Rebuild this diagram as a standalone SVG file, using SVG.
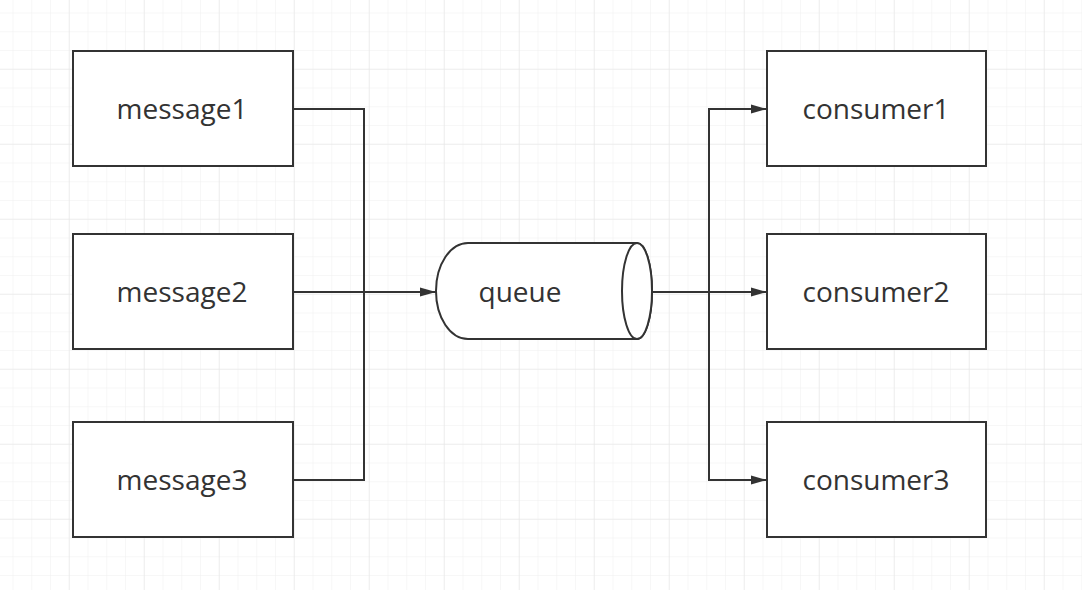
<svg xmlns="http://www.w3.org/2000/svg" width="1082" height="590" viewBox="0 0 1082 590">
<defs>
<pattern id="minor" x="12.5" y="12.5" width="18.75" height="18.75" patternUnits="userSpaceOnUse">
<path d="M 0 0 L 18.75 0 M 0 0 L 0 18.75" fill="none" stroke="#f0f0f0" stroke-width="1"/>
</pattern>
<pattern id="major" x="-6.25" y="-6.25" width="75" height="75" patternUnits="userSpaceOnUse">
<path d="M 0 0 L 75 0 M 0 0 L 0 75" fill="none" stroke="#e4e4e4" stroke-width="1"/>
</pattern>
<marker id="arr" viewBox="0 0 16 10" refX="16" refY="5" markerWidth="16" markerHeight="10" markerUnits="userSpaceOnUse" orient="auto">
<path d="M 0 0.5 L 16 5 L 0 9.5 Z" fill="#333"/>
</marker>
<style>
.box{fill:#fff;stroke:#333;stroke-width:2}
.lbl{font-family:"Open Sans","Noto Sans",sans-serif;font-size:28px;fill:#333;text-anchor:middle}
.conn{fill:none;stroke:#333;stroke-width:2}
</style>
</defs>
<rect width="1082" height="590" fill="#fff"/>
<rect width="1082" height="590" fill="url(#minor)"/>
<rect width="1082" height="590" fill="url(#major)"/>
<g id="connectors">
<path class="conn" d="M 293 109 L 364 109 L 364 480 L 293 480"/>
<path class="conn" d="M 293 292 L 436 292" marker-end="url(#arr)"/>
<path class="conn" d="M 652 292 L 767 292" marker-end="url(#arr)"/>
<path class="conn" d="M 709 292 L 709 109 L 767 109" marker-end="url(#arr)"/>
<path class="conn" d="M 709 292 L 709 480 L 767 480" marker-end="url(#arr)"/>
</g>
<g id="message1"><rect class="box" x="73" y="51" width="220" height="115"/><text class="lbl" x="182" y="119">message1</text></g>
<g id="message2"><rect class="box" x="73" y="234" width="220" height="115"/><text class="lbl" x="182" y="302">message2</text></g>
<g id="message3"><rect class="box" x="73" y="422" width="220" height="115"/><text class="lbl" x="182" y="490">message3</text></g>
<g id="queue">
<path class="box" d="M 468 243 L 637 243 A 15 48 0 0 1 637 339 L 468 339 A 32 48 0 0 1 468 243 Z"/>
<ellipse class="box" cx="637" cy="291" rx="15" ry="48"/>
<text class="lbl" x="520" y="302">queue</text>
</g>
<g id="consumer1"><rect class="box" x="767" y="51" width="219" height="115"/><text class="lbl" x="876" y="119">consumer1</text></g>
<g id="consumer2"><rect class="box" x="767" y="234" width="219" height="115"/><text class="lbl" x="876" y="302">consumer2</text></g>
<g id="consumer3"><rect class="box" x="767" y="422" width="219" height="115"/><text class="lbl" x="876" y="490">consumer3</text></g>
</svg>
